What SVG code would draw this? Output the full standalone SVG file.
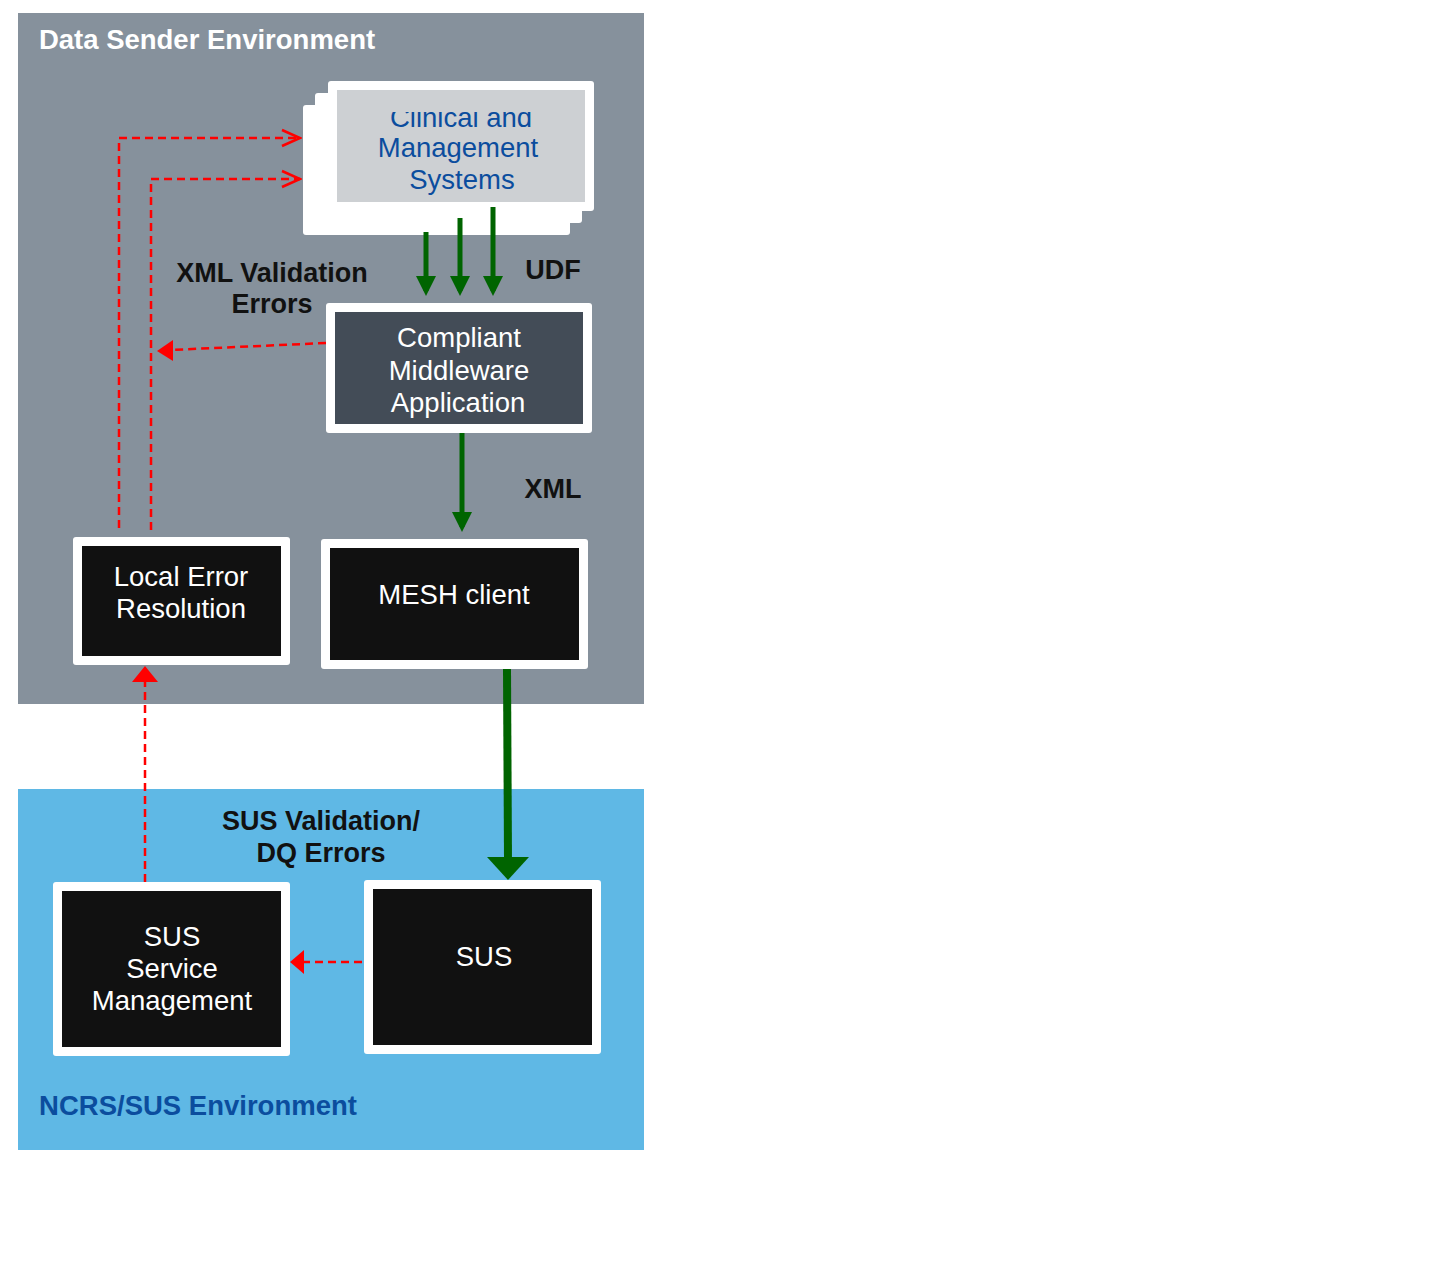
<svg xmlns="http://www.w3.org/2000/svg" width="1433" height="1280" viewBox="0 0 1433 1280">
<style>
text{font-family:"Liberation Sans",Arial,sans-serif;text-anchor:middle}
.w{fill:#fff}
.lbl{font-size:27.5px;fill:#fff}
.b{font-weight:bold;font-size:27px;fill:#111}
.g{stroke:#006400;stroke-width:5;fill:none}
.r{stroke:#f00;stroke-width:2.5;stroke-dasharray:8,5;fill:none}
</style>
<defs>
<marker id="ga" markerWidth="4" markerHeight="4" refX="3" refY="2" orient="auto"><path d="M0,0L4,2L0,4z" fill="#006400"/></marker>
<marker id="ro" markerWidth="22" markerHeight="20" refX="20" refY="10" orient="auto" markerUnits="userSpaceOnUse"><path d="M2,2L20,10L2,18" fill="none" stroke="#f00" stroke-width="2.5"/></marker>
<clipPath id="cc"><rect x="337" y="112" width="248" height="90"/></clipPath>
</defs>
<g id="envs">
<rect x="18" y="13" width="626" height="691" fill="#86919c"/>
<rect x="18" y="789" width="626" height="361" fill="#5fb8e5"/>
<text x="207" y="49" style="font-size:27.5px;font-weight:bold;fill:#fff">Data Sender Environment</text>
<text x="198" y="1115" style="font-size:27.5px;font-weight:bold;fill:#0b4d9e">NCRS/SUS Environment</text>
</g>
<g id="clinical">
<rect x="303" y="105" width="267" height="130" class="w" rx="3"/>
<rect x="315" y="93" width="267" height="130" class="w" rx="3"/>
<rect x="328" y="81" width="266" height="130" class="w" rx="3"/>
<rect x="337" y="90" width="248" height="112" fill="#cdd0d3"/>
<text font-size="27.5" fill="#0b4d9e" clip-path="url(#cc)"><tspan x="461" y="127">Clinical and</tspan><tspan x="458" y="157">Management</tspan><tspan x="462" y="189">Systems</tspan></text>
</g>
<g id="compliant">
<rect x="326" y="303" width="266" height="130" class="w" rx="3"/>
<rect x="335" y="312" width="248" height="112" fill="#434c57"/>
<text class="lbl"><tspan x="459" y="347">Compliant</tspan><tspan x="459" y="380">Middleware</tspan><tspan x="458" y="412">Application</tspan></text>
</g>
<g id="mesh">
<rect x="321" y="539" width="267" height="130" class="w" rx="3"/>
<rect x="330" y="548" width="249" height="112" fill="#111"/>
<text class="lbl" x="454" y="604">MESH client</text>
</g>
<g id="local">
<rect x="73" y="537" width="217" height="128" class="w" rx="3"/>
<rect x="82" y="546" width="199" height="110" fill="#111"/>
<text class="lbl"><tspan x="181" y="586">Local Error</tspan><tspan x="181" y="618">Resolution</tspan></text>
</g>
<g id="susm">
<rect x="53" y="882" width="237" height="174" class="w" rx="3"/>
<rect x="62" y="891" width="219" height="156" fill="#111"/>
<text class="lbl"><tspan x="172" y="946">SUS</tspan><tspan x="172" y="978">Service</tspan><tspan x="172" y="1010">Management</tspan></text>
</g>
<g id="sus">
<rect x="364" y="880" width="237" height="174" class="w" rx="3"/>
<rect x="373" y="889" width="219" height="156" fill="#111"/>
<text class="lbl" x="484" y="966">SUS</text>
</g>
<g id="connectors">
<line x1="426" y1="232" x2="426" y2="291" class="g" marker-end="url(#ga)"/>
<line x1="460" y1="218" x2="460" y2="291" class="g" marker-end="url(#ga)"/>
<line x1="493" y1="207" x2="493" y2="291" class="g" marker-end="url(#ga)"/>
<line x1="462" y1="433" x2="462" y2="527" class="g" stroke-width="4" marker-end="url(#ga)"/>
<line x1="507" y1="669" x2="508" y2="860" stroke="#006400" stroke-width="8"/>
<path d="M487,857L529,857L508,880z" fill="#006400"/>
<path d="M119,528V138H300" class="r" marker-end="url(#ro)"/>
<path d="M151,530V179H300" class="r" marker-end="url(#ro)"/>
<line x1="326" y1="343" x2="170" y2="350" class="r"/>
<path d="M157,351L173,340L173,361z" fill="#f00"/>
<line x1="145" y1="882" x2="145" y2="680" class="r" stroke-width="3.5"/>
<path d="M132,682L145,666L158,682z" fill="#f00"/>
<line x1="362" y1="962" x2="304" y2="962" class="r"/>
<path d="M290,962L304,950L304,974z" fill="#f00"/>
<text class="b" x="553" y="279">UDF</text>
<text class="b" x="553" y="498">XML</text>
<text class="b"><tspan x="272" y="282">XML Validation</tspan><tspan x="272" y="313">Errors</tspan></text>
<text class="b"><tspan x="321" y="830">SUS Validation/</tspan><tspan x="321" y="862">DQ Errors</tspan></text>
</g>
</svg>
